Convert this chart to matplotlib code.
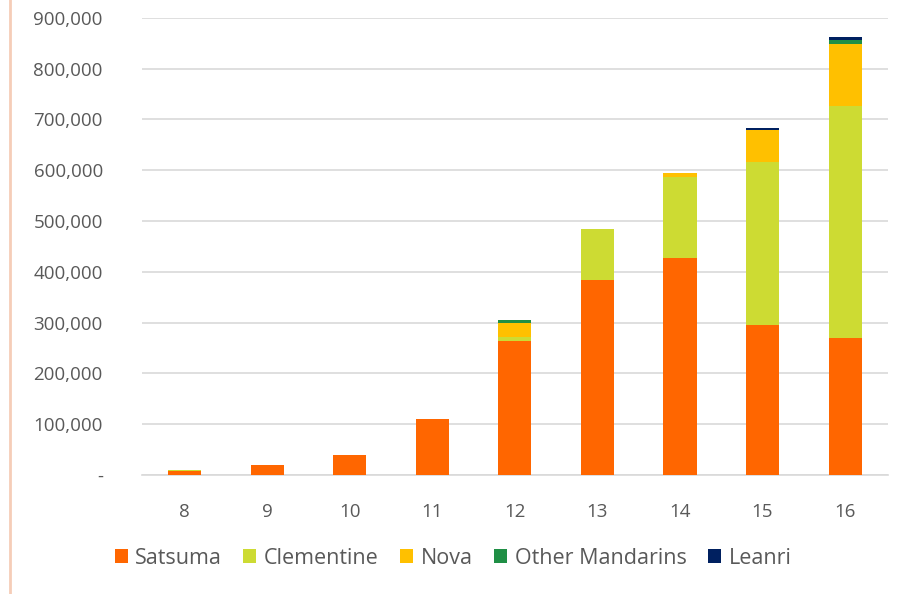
import matplotlib.pyplot as plt
import matplotlib.ticker as mticker
from matplotlib.lines import Line2D
import numpy as np

years = [8, 9, 10, 11, 12, 13, 14, 15, 16]
satsuma = [8000, 20000, 40000, 110000, 264000, 384000, 428000, 296000, 270000]
clementine = [2000, 0, 0, 0, 8000, 100000, 159000, 321000, 457000]
nova = [0, 0, 0, 0, 28000, 0, 8000, 63000, 122000]
other = [0, 0, 0, 0, 5000, 0, 0, 0, 7000]
leanri = [0, 0, 0, 0, 0, 0, 0, 4000, 6000]

series = [("Satsuma", satsuma, "#FF6600"),
          ("Clementine", clementine, "#CDDB33"),
          ("Nova", nova, "#FFC000"),
          ("Other Mandarins", other, "#1F8F45"),
          ("Leanri", leanri, "#002060")]

plt.rcParams['font.family'] = ['Open Sans', 'DejaVu Sans']

fig = plt.figure(figsize=(8.97, 5.94), dpi=100)
ax = fig.add_axes([0.158, 0.2003, 0.832, 0.7697])

x = np.array(years)
bottom = np.zeros(len(years))
for name, vals, col in series:
    ax.bar(x, vals, width=0.4, bottom=bottom, color=col, label=name,
           edgecolor='none', zorder=3)
    bottom += np.array(vals)

ax.set_xlim(7.48, 16.52)
ax.set_ylim(0, 900000)
ax.set_yticks(range(0, 900001, 100000))
ax.yaxis.set_major_formatter(mticker.FuncFormatter(
    lambda v, p: "-" if v == 0 else f"{int(v):,}"))
ax.set_xticks(years)
ax.grid(axis='y', color='#D9D9D9', linewidth=1.2, zorder=0)
for s in ['top', 'right', 'left']:
    ax.spines[s].set_visible(False)
ax.spines['bottom'].set_color('#D9D9D9')
ax.spines['bottom'].set_linewidth(1.2)
ax.tick_params(length=0, labelsize=13.5, labelcolor='#595959')
ax.tick_params(axis='y', pad=28)
ax.tick_params(axis='x', pad=20)

handles, labels = ax.get_legend_handles_labels()
leg = fig.legend(handles, labels, loc='center', bbox_to_anchor=(0.505, 0.06),
                 ncol=5, frameon=False, fontsize=15.5, handlelength=0.6,
                 handleheight=0.6, handletextpad=0.35, columnspacing=1.0)
for t in leg.get_texts():
    t.set_color('#595959')

fig.add_artist(Line2D([0.011, 0.011], [0, 1], transform=fig.transFigure,
                      color='#F5CDB8', linewidth=2))

fig.savefig('out.png', dpi=100)
